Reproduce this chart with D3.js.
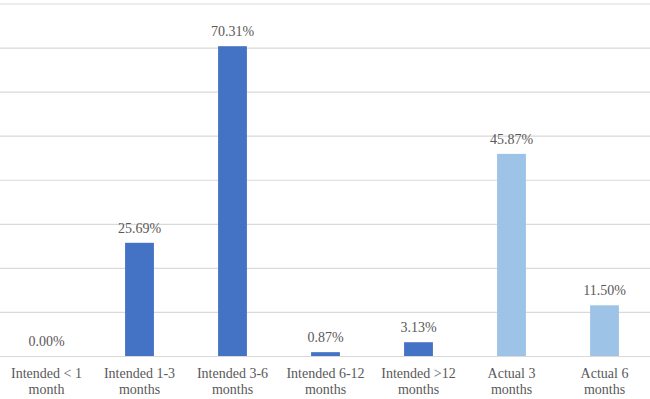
<!DOCTYPE html>
<html>
<head>
<meta charset="utf-8">
<script src="https://cdn.jsdelivr.net/npm/d3@7"></script>
<style>
  body { margin: 0; background: #fff; }
  svg { display: block; }
  svg text { font-family: "Liberation Serif", "DejaVu Serif", serif; }
</style>
</head>
<body>
<div id="chart"></div>
<script>
// data
const categories = [
    ["Intended < 1", "month"],
    ["Intended 1-3", "months"],
    ["Intended 3-6", "months"],
    ["Intended 6-12", "months"],
    ["Intended >12", "months"],
    ["Actual 3", "months"],
    ["Actual 6", "months"]
];
const values = [0.00, 25.69, 70.31, 0.87, 3.13, 45.87, 11.50];
const groups = ["intended", "intended", "intended", "intended", "intended", "actual", "actual"];
const yTicks = [0, 10, 20, 30, 40, 50, 60, 70, 80];

const width = 650, height = 399;
const margin = { top: 3.5, bottom: 43, left: 0, right: 0 };

const svg = d3.select("#chart")
    .append("svg")
    .attr("width", width)
    .attr("height", height);

const x = d3.scaleBand()
    .domain(d3.range(categories.length))
    .range([0, 651])
    .paddingInner(0.69)
    .paddingOuter(0.345);

const y = d3.scaleLinear()
    .domain([0, 80])
    .range([height - margin.bottom, margin.top]);

const color = d3.scaleOrdinal()
    .domain(["intended", "actual"])
    .range(["#4472C4", "#9DC3E6"]);

// gridlines
svg.append("g")
    .call(d3.axisLeft(y).tickValues(yTicks).tickSize(-width).tickFormat(""))
    .call(g => g.select(".domain").remove())
    .call(g => g.selectAll("line").attr("stroke", "#D9D9D9").attr("stroke-width", 1.2));

// bars
svg.append("g")
    .selectAll("rect")
    .data(values)
    .enter()
    .append("rect")
    .attr("x", (d, i) => x(i))
    .attr("y", d => y(d))
    .attr("width", x.bandwidth())
    .attr("height", d => y(0) - y(d))
    .attr("fill", (d, i) => color(groups[i]));

// value labels
svg.append("g")
    .selectAll("text")
    .data(values)
    .enter()
    .append("text")
    .attr("x", (d, i) => x(i) + x.bandwidth() / 2)
    .attr("y", d => y(d) - 10)
    .attr("text-anchor", "middle")
    .style("font-size", "14px")
    .style("fill", "#595959")
    .text(d => d.toFixed(2) + "%");

// category labels (two lines)
const labels = svg.append("g")
    .selectAll("text")
    .data(categories)
    .enter()
    .append("text")
    .attr("text-anchor", "middle")
    .style("font-size", "14px")
    .style("fill", "#595959");

labels.each(function (d, i) {
    const t = d3.select(this);
    d.forEach((line, j) => {
        t.append("tspan")
            .attr("x", x(i) + x.bandwidth() / 2)
            .attr("y", 377.5 + j * 16)
            .text(line);
    });
});
</script>
</body>
</html>
